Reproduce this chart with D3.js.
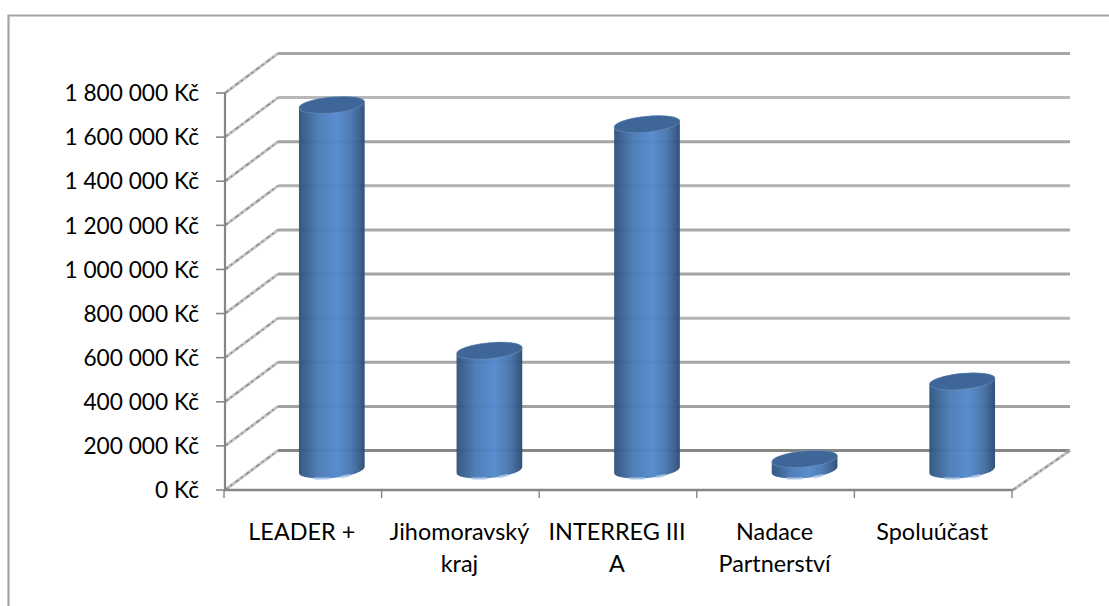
<!DOCTYPE html>
<html><head><meta charset="utf-8">
<script src="https://cdn.jsdelivr.net/npm/d3@7"></script>
<style>html,body{margin:0;padding:0;background:#fff;overflow:hidden}svg{display:block}text{font-family:Lato,"Open Sans",sans-serif;fill:#000;font-size:22.7px}</style>
</head><body>
<svg id="c" width="1109" height="606"></svg>
<script>
const categories = [["LEADER +"],["Jihomoravský","kraj"],["INTERREG III","A"],["Nadace","Partnerství"],["Spoluúčast"]];
const values = [1655000, 541000, 1568000, 50000, 402000];
const tickValues = [0,200000,400000,600000,800000,1000000,1200000,1400000,1600000,1800000];
const tickLabels = ["0 Kč","200 000 Kč","400 000 Kč","600 000 Kč","800 000 Kč","1 000 000 Kč","1 200 000 Kč","1 400 000 Kč","1 600 000 Kč","1 800 000 Kč"];
const gridColors = ["#868686","#a2a2a2","#a6a6a6","#b4b4b4","#a4a4a4","#a8a8a8","#b2b2b2","#a4a4a4","#b8b8b8","#a6a6a6"];

const svg = d3.select("#c");
const defs = svg.append("defs");
const g = defs.append("linearGradient").attr("id","body").attr("x1",0).attr("x2",1).attr("y1",0).attr("y2",0);
[[0,"#2f527e"],[.1,"#37608f"],[.3,"#4a7ab6"],[.58,"#5389cd"],[.8,"#4774ac"],[.92,"#375d8c"],[1,"#2a4a72"]]
  .forEach(([o,c])=>g.append("stop").attr("offset",o).attr("stop-color",c));

const x = d3.scaleBand().domain(d3.range(categories.length)).range([225,1013]);
const y = d3.scaleLinear().domain([0,1800000]).range([490,93]);
const depthX = 53, depthY = -39.5;
const axisCol = "#868686";

svg.append("path").attr("d","M8.5,640V15.5H1140").attr("fill","none").attr("stroke","#a4a4a4").attr("stroke-width",2.2);

svg.append("g").selectAll("line").data(tickValues).join("line")
  .attr("x1",x.range()[0]+depthX).attr("x2",x.range()[1]+depthX+4)
  .attr("y1",d=>y(d)+depthY).attr("y2",d=>y(d)+depthY)
  .attr("stroke",(d,i)=>gridColors[i]).attr("stroke-width",3);

const side = svg.append("g");
side.selectAll("line.a").data(tickValues).join("line").attr("class","a")
  .attr("x1",x.range()[0]).attr("x2",x.range()[0]+depthX)
  .attr("y1",d=>y(d)).attr("y2",d=>y(d)+depthY)
  .attr("stroke","#c4c4c4").attr("stroke-width",3);
side.selectAll("line.b").data(tickValues).join("line").attr("class","b")
  .attr("x1",x.range()[0]).attr("x2",x.range()[0]+depthX)
  .attr("y1",d=>y(d)).attr("y2",d=>y(d)+depthY)
  .attr("stroke","#8a8a8a").attr("stroke-width",1.5).attr("stroke-dasharray","4 3 2 4");
side.append("line").attr("x1",x.range()[1]).attr("x2",x.range()[1]+depthX+4)
  .attr("y1",y(0)).attr("y2",y(0)+depthY)
  .attr("stroke","#c4c4c4").attr("stroke-width",3);
side.append("line").attr("x1",x.range()[1]).attr("x2",x.range()[1]+depthX+4)
  .attr("y1",y(0)).attr("y2",y(0)+depthY)
  .attr("stroke","#8a8a8a").attr("stroke-width",1.5).attr("stroke-dasharray","4 3 2 4");

const ax = svg.append("g").attr("stroke",axisCol).attr("fill","none");
ax.append("line").attr("x1",x.range()[0]).attr("x2",x.range()[0]).attr("y1",y(1800000)).attr("y2",y(0)).attr("stroke-width",2.2);
ax.append("line").attr("x1",x.range()[0]-1).attr("x2",x.range()[1]).attr("y1",y(0)).attr("y2",y(0)).attr("stroke-width",2.4);
ax.selectAll("line.ty").data(tickValues).join("line").attr("class","ty")
  .attr("x1",x.range()[0]-9).attr("x2",x.range()[0]).attr("y1",d=>y(d)).attr("y2",d=>y(d)).attr("stroke-width",1.6);
ax.selectAll("line.tx").data(d3.range(categories.length+1)).join("line").attr("class","tx")
  .attr("x1",i=>x.range()[0]+i*x.bandwidth()-1).attr("x2",i=>x.range()[0]+i*x.bandwidth()-1)
  .attr("y1",y(0)).attr("y2",y(0)+8).attr("stroke-width",1.4);

const rx = 33, ry = 8, rot = -5.5, rad = rot*Math.PI/180;
const ex = rx*Math.cos(rad), ey = rx*Math.sin(rad);
const baseDx = depthX*.5+1.5, baseDy = -20;
const bars = svg.append("g").selectAll("g").data(values).join("g");
bars.append("path")
  .attr("d",(v,i)=>{
    const cx = x(i)+x.bandwidth()/2+baseDx, b = y(0)+baseDy, t = y(v)+baseDy;
    return `M${cx-ex},${t-ey}L${cx-ex},${b-ey}A${rx},${ry} ${rot} 0 0 ${cx+ex},${b+ey}L${cx+ex},${t+ey}A${rx},${ry} ${rot} 0 0 ${cx-ex},${t-ey}Z`;
  })
  .attr("fill","url(#body)").attr("fill-opacity",.96);
bars.append("path")
  .attr("d",(v,i)=>{
    const cx = x(i)+x.bandwidth()/2+baseDx, b = y(0)+baseDy;
    return `M${cx-ex},${b-ey}A${rx},${ry} ${rot} 0 0 ${cx+ex},${b+ey}`;
  })
  .attr("fill","none").attr("stroke","#a9c3e6").attr("stroke-width",2)
  .attr("stroke-dasharray","0 17 15 11 10 60");
bars.append("ellipse")
  .attr("cx",(v,i)=>x(i)+x.bandwidth()/2+baseDx).attr("cy",v=>y(v)+baseDy)
  .attr("rx",rx).attr("ry",ry)
  .attr("transform",(v,i)=>`rotate(${rot} ${x(i)+x.bandwidth()/2+baseDx} ${y(v)+baseDy})`)
  .attr("fill","#3e6698").attr("stroke","#7f9dc4").attr("stroke-opacity",.45).attr("stroke-width",1);

svg.append("g").selectAll("text").data(tickValues).join("text")
  .attr("x",199).attr("y",d=>y(d)).attr("dy","0.36em").attr("text-anchor","end")
  .text((d,i)=>tickLabels[i]);

const cat = svg.append("g").selectAll("text").data(categories).join("text").attr("text-anchor","middle");
cat.selectAll("tspan").data((d,i)=>d.map(s=>({s,i}))).join("tspan")
  .attr("x",d=>x(d.i)+x.bandwidth()/2-2).attr("y",(d,j)=>540+j*32).attr("font-size",23).style("font-size","23.4px").text(d=>d.s);
</script>
</body></html>
